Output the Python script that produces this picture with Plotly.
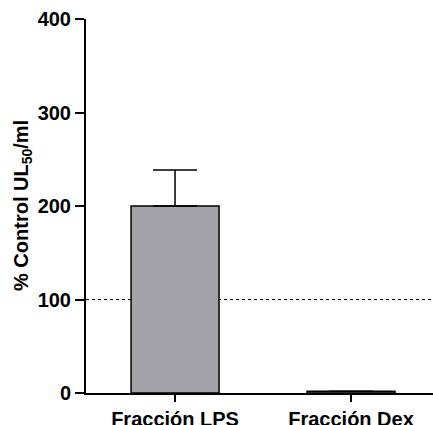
import plotly.graph_objects as go

categories = ["Fracción LPS", "Fracción Dex"]
values = [200, 2]
err_up = [38.5, 0]
y_ticks = [0, 100, 200, 300, 400]
ref_level = 100

FONT = "Liberation Sans, Arial, sans-serif"

fig = go.Figure()
fig.add_trace(go.Bar(
    x=[0, 1], y=values, width=0.5,
    marker=dict(color="#a3a2a8", line=dict(color="black", width=1.5)),
    error_y=dict(type="data", symmetric=False, array=err_up, arrayminus=[0, 0],
                 color="black", thickness=1.5, width=22),
))
fig.add_shape(type="line", xref="paper", yref="y", x0=0, x1=1, y0=ref_level, y1=ref_level,
              line=dict(color="black", width=1, dash="3px,3px"), layer="below")

fig.update_layout(
    width=433, height=425,
    margin=dict(l=86, r=0, t=19, b=32, autoexpand=False),
    plot_bgcolor="white", paper_bgcolor="white",
    showlegend=False,
    font=dict(family=FONT, size=20, color="black"),
    xaxis=dict(range=[-0.506, 1.466], tickvals=[0, 1], ticktext=["<b>%s</b>" % c for c in categories],
               showline=True, linecolor="black", linewidth=2, ticks="outside", ticklen=7,
               tickwidth=1.5, tickcolor="black", showgrid=False, zeroline=False, automargin=False,
               tickfont=dict(family=FONT, size=20)),
    yaxis=dict(range=[0, 400], tickvals=y_ticks, ticktext=["<b>%d</b>" % v for v in y_ticks],
               showline=True, linecolor="black", linewidth=2, ticks="outside", ticklen=9,
               tickwidth=2, tickcolor="black", showgrid=False, zeroline=False, automargin=False,
               tickfont=dict(family=FONT, size=20)),
)
fig.add_annotation(xref="paper", yref="paper", x=(22 - 86) / 347, y=0.5,
                   text="<b>% Control UL<sub>50</sub>/ml</b>", textangle=-90, showarrow=False,
                   xanchor="center", yanchor="middle", font=dict(family=FONT, size=20))
fig.write_html("out.html")
